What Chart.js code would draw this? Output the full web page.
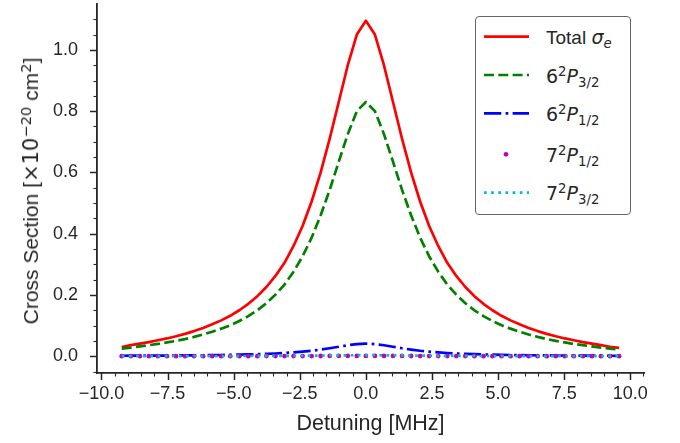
<!DOCTYPE html>
<html>
<head>
<meta charset="utf-8">
<script src="https://cdn.jsdelivr.net/npm/chart.js@4.4.1/dist/chart.umd.min.js"></script>
<style>
  html, body { margin: 0; padding: 0; background: #fff; }
  #wrap { position: relative; width: 680px; height: 443px; }
  #legend { position: absolute; left: 475px; top: 16px; width: 156px; height: 199px;
    border: 1.3px solid #666; border-radius: 4px; background: #fff; box-sizing: border-box; }
  .row { position: absolute; left: 70px; height: 24px; line-height: 24px; font-size: 19px;
    color: #262626; white-space: nowrap; font-family: "DejaVu Sans", sans-serif; }
  .txt { font-family: "Liberation Sans", Arial, sans-serif; }
  .math { font-family: "DejaVu Sans", sans-serif; }
  .row i { font-style: italic; }
  sup, sub { font-size: 0.7em; line-height: 0; }
  sup { vertical-align: 0.5em; }
  sub { vertical-align: -0.28em; }
  #legend svg { position: absolute; left: 0; top: 0; }
  #ytitle { position: absolute; left: 31px; top: 191px; transform: translate(-50%, -50%) rotate(-90deg);
    white-space: nowrap; font-family: "Liberation Sans", Arial, sans-serif; font-size: 21px;
    color: #262626; line-height: 24px; }
</style>
</head>
<body>
<div id="wrap">
  <canvas id="c" width="680" height="443"></canvas>
  <div id="ytitle"></div>
  <div id="legend"></div>
</div>
<script>
// ---- data ----
const detuning = [-9.234, -8.892, -8.55, -8.208, -7.866, -7.524, -7.182, -6.84, -6.498, -6.156,
  -5.814, -5.472, -5.13, -4.788, -4.446, -4.104, -3.762, -3.42, -3.078, -2.736,
  -2.394, -2.052, -1.71, -1.368, -1.026, -0.684, -0.342, 0, 0.342, 0.684,
  1.026, 1.368, 1.71, 2.052, 2.394, 2.736, 3.078, 3.42, 3.762, 4.104,
  4.446, 4.788, 5.13, 5.472, 5.814, 6.156, 6.498, 6.84, 7.182, 7.524,
  7.866, 8.208, 8.55, 8.892, 9.234, 9.576];

const totalSigma = [0.030, 0.036, 0.041, 0.046, 0.052, 0.058, 0.065, 0.073, 0.082, 0.092,
  0.104, 0.117, 0.132, 0.150, 0.171, 0.196, 0.226, 0.262, 0.305, 0.360,
  0.425, 0.505, 0.600, 0.710, 0.830, 0.950, 1.050, 1.095, 1.050, 0.950,
  0.830, 0.710, 0.600, 0.505, 0.425, 0.360, 0.305, 0.262, 0.226, 0.196,
  0.171, 0.150, 0.132, 0.117, 0.104, 0.092, 0.082, 0.073, 0.065, 0.058,
  0.052, 0.046, 0.041, 0.036, 0.031, 0.027];

const p6_32 = [0.025, 0.028, 0.032, 0.036, 0.040, 0.045, 0.050, 0.056, 0.063, 0.071,
  0.080, 0.090, 0.101, 0.115, 0.131, 0.150, 0.173, 0.201, 0.234, 0.276,
  0.326, 0.387, 0.460, 0.543, 0.635, 0.725, 0.800, 0.830, 0.800, 0.725,
  0.635, 0.543, 0.460, 0.387, 0.326, 0.276, 0.234, 0.201, 0.173, 0.150,
  0.131, 0.115, 0.101, 0.090, 0.080, 0.071, 0.063, 0.056, 0.050, 0.045,
  0.040, 0.036, 0.032, 0.028, 0.025, 0.022];

const p6_12 = [0.0015, 0.0016, 0.0017, 0.0019, 0.0020, 0.0022, 0.0024, 0.0027, 0.0029, 0.0032,
  0.0036, 0.0040, 0.0045, 0.0051, 0.0058, 0.0066, 0.0076, 0.0089, 0.0104, 0.0124,
  0.0148, 0.0178, 0.0216, 0.0260, 0.0309, 0.0358, 0.0396, 0.0410, 0.0396, 0.0358,
  0.0309, 0.0260, 0.0216, 0.0178, 0.0148, 0.0124, 0.0104, 0.0089, 0.0076, 0.0066,
  0.0058, 0.0051, 0.0045, 0.0040, 0.0036, 0.0032, 0.0029, 0.0027, 0.0024, 0.0022,
  0.0020, 0.0019, 0.0017, 0.0016, 0.0015, 0.0014];

const p7_12 = [0.0001, 0.0001, 0.0001, 0.0001, 0.0001, 0.0001, 0.0001, 0.0001, 0.0001, 0.0001,
  0.0001, 0.0001, 0.0002, 0.0002, 0.0002, 0.0002, 0.0003, 0.0003, 0.0004, 0.0004,
  0.0005, 0.0006, 0.0007, 0.0008, 0.0009, 0.0010, 0.0011, 0.0011, 0.0011, 0.0010,
  0.0009, 0.0008, 0.0007, 0.0006, 0.0005, 0.0004, 0.0004, 0.0003, 0.0003, 0.0002,
  0.0002, 0.0002, 0.0002, 0.0001, 0.0001, 0.0001, 0.0001, 0.0001, 0.0001, 0.0001,
  0.0001, 0.0001, 0.0001, 0.0001, 0.0001, 0.0001];

const p7_32 = [0.0002, 0.0002, 0.0002, 0.0002, 0.0002, 0.0003, 0.0003, 0.0003, 0.0003, 0.0004,
  0.0004, 0.0005, 0.0005, 0.0006, 0.0007, 0.0008, 0.0009, 0.0010, 0.0012, 0.0014,
  0.0016, 0.0019, 0.0022, 0.0025, 0.0028, 0.0031, 0.0033, 0.0034, 0.0033, 0.0031,
  0.0028, 0.0025, 0.0022, 0.0019, 0.0016, 0.0014, 0.0012, 0.0010, 0.0009, 0.0008,
  0.0007, 0.0006, 0.0005, 0.0005, 0.0004, 0.0004, 0.0003, 0.0003, 0.0003, 0.0003,
  0.0002, 0.0002, 0.0002, 0.0002, 0.0002, 0.0002];

const seriesNames = ['Total σe', '6²P3/2', '6²P1/2', '7²P1/2', '7²P3/2'];
const legendHtml = [
  '<span class="txt">Total </span><i>σ</i><sub><i>e</i></sub>',
  '6<sup>2</sup><i>P</i><sub>3/2</sub>',
  '6<sup>2</sup><i>P</i><sub>1/2</sub>',
  '7<sup>2</sup><i>P</i><sub>1/2</sub>',
  '7<sup>2</sup><i>P</i><sub>3/2</sub>'
];
const xTitle = 'Detuning [MHz]';
const yTitleHtml = 'Cross Section [<span class="math">×10<sup>−20</sup></span> cm<sup class="math">2</sup>]';
const xTickStep = 2.5;
const yTickStep = 0.2;

// ---- styling ----
const LW = 2.7;
const INK = '#262626';
const FONT = '"Liberation Sans", Arial, sans-serif';
const pts = arr => detuning.map((x, i) => ({ x: x, y: arr[i] }));

const datasets = [
  { label: seriesNames[0], data: pts(totalSigma), borderColor: '#ff0000', borderWidth: LW,
    borderDash: [], pointRadius: 0, order: 5 },
  { label: seriesNames[1], data: pts(p6_32), borderColor: '#008000', borderWidth: LW,
    borderDash: [3.7 * LW, 1.6 * LW], pointRadius: 0, order: 4 },
  { label: seriesNames[2], data: pts(p6_12), borderColor: '#0000ff', borderWidth: LW,
    borderDash: [6.4 * LW, 1.6 * LW, 1 * LW, 1.6 * LW], pointRadius: 0, order: 3 },
  { label: seriesNames[3], data: pts(p7_12), borderColor: '#bf00bf', backgroundColor: '#bf00bf',
    showLine: false, pointRadius: 2.4, pointBorderWidth: 0, pointStyle: 'circle', order: 2 },
  { label: seriesNames[4], data: pts(p7_32), borderColor: '#00bfbf', borderWidth: LW,
    borderDash: [1 * LW, 1.65 * LW], pointRadius: 0, order: 1 }
];

const fmt = v => {
  const s = (Math.abs(v) < 1e-9 ? 0 : v).toFixed(1);
  return s.replace('-', '\u2212');
};

const tickMarks = {
  id: 'tickMarks',
  afterDraw(chart) {
    const { ctx, scales: { x, y }, chartArea: a } = chart;
    ctx.save();
    ctx.strokeStyle = INK;
    const near = (v, s) => Math.abs(v / s - Math.round(v / s)) < 1e-6;
    for (let i = -40; i <= 40; i++) {
      const v = i * 0.5;
      if (v < x.min - 1e-9 || v > x.max + 1e-9) continue;
      const major = near(v, xTickStep);
      const px = Math.round(x.getPixelForValue(v)) + 0.5;
      ctx.lineWidth = major ? 1.5 : 1.1;
      ctx.beginPath();
      ctx.moveTo(px, a.bottom);
      ctx.lineTo(px, a.bottom + (major ? 7 : 3.5));
      ctx.stroke();
    }
    for (let i = -10; i <= 40; i++) {
      const v = i * 0.05;
      if (v < y.min - 1e-9 || v > y.max + 1e-9) continue;
      const major = near(v, yTickStep);
      const py = Math.round(y.getPixelForValue(v)) + 0.5;
      ctx.lineWidth = major ? 1.5 : 1.1;
      ctx.beginPath();
      ctx.moveTo(a.left, py);
      ctx.lineTo(a.left - (major ? 7 : 3.5), py);
      ctx.stroke();
    }
    ctx.restore();
  }
};

const chart = new Chart(document.getElementById('c'), {
  type: 'line',
  data: { datasets: datasets },
  options: {
    responsive: false,
    animation: false,
    devicePixelRatio: 1,
    layout: { padding: { top: 4, right: 36, left: 0, bottom: 0 } },
    elements: { line: { tension: 0, borderCapStyle: 'butt', borderJoinStyle: 'round', fill: false } },
    plugins: { legend: { display: false }, tooltip: { enabled: false } },
    scales: {
      x: {
        type: 'linear', min: -10.17, max: 10.52,
        afterFit: s => { s.height = 70; s.paddingLeft = 0; s.paddingRight = 0; },
        grid: { display: false },
        border: { display: true, color: INK, width: 1.8 },
        ticks: { stepSize: xTickStep, includeBounds: false, padding: 2, color: INK,
          font: { family: FONT, size: 18 }, maxRotation: 0, autoSkip: false, callback: v => fmt(v) },
        title: { display: true, text: xTitle, color: INK,
          font: { family: FONT, size: 21.5 }, padding: { top: 0, bottom: 6 } }
      },
      y: {
        type: 'linear', min: -0.0548, max: 1.1498,
        afterFit: s => { s.width = 97; s.paddingTop = 0; s.paddingBottom = 0; },
        grid: { display: false },
        border: { display: true, color: INK, width: 1.8 },
        ticks: { stepSize: yTickStep, includeBounds: false, padding: 11, color: INK,
          font: { family: FONT, size: 18 }, autoSkip: false, callback: v => fmt(v) },
        title: { display: false }
      }
    }
  },
  plugins: [tickMarks]
});

document.getElementById('ytitle').innerHTML = yTitleHtml;

// ---- HTML legend (text stays real text) ----
(function buildLegend() {
  const lg = document.getElementById('legend');
  const rowCenters = [19.7, 58, 96.3, 137.3, 175.7];
  const ns = 'http://www.w3.org/2000/svg';
  const svg = document.createElementNS(ns, 'svg');
  svg.setAttribute('width', 156); svg.setAttribute('height', 199);
  datasets.forEach((d, i) => {
    const cy = rowCenters[i];
    if (d.showLine === false) {
      const c = document.createElementNS(ns, 'circle');
      c.setAttribute('cx', 30); c.setAttribute('cy', cy); c.setAttribute('r', d.pointRadius);
      c.setAttribute('fill', d.backgroundColor);
      svg.appendChild(c);
    } else {
      const l = document.createElementNS(ns, 'line');
      l.setAttribute('x1', 8); l.setAttribute('x2', 53);
      l.setAttribute('y1', cy); l.setAttribute('y2', cy);
      l.setAttribute('stroke', d.borderColor);
      l.setAttribute('stroke-width', d.borderWidth);
      if (d.borderDash && d.borderDash.length) l.setAttribute('stroke-dasharray', d.borderDash.join(' '));
      svg.appendChild(l);
    }
    const row = document.createElement('div');
    row.className = 'row';
    row.style.top = (cy - 11.5) + 'px';
    row.innerHTML = legendHtml[i];
    lg.appendChild(row);
  });
  lg.appendChild(svg);
})();
</script>
</body>
</html>
